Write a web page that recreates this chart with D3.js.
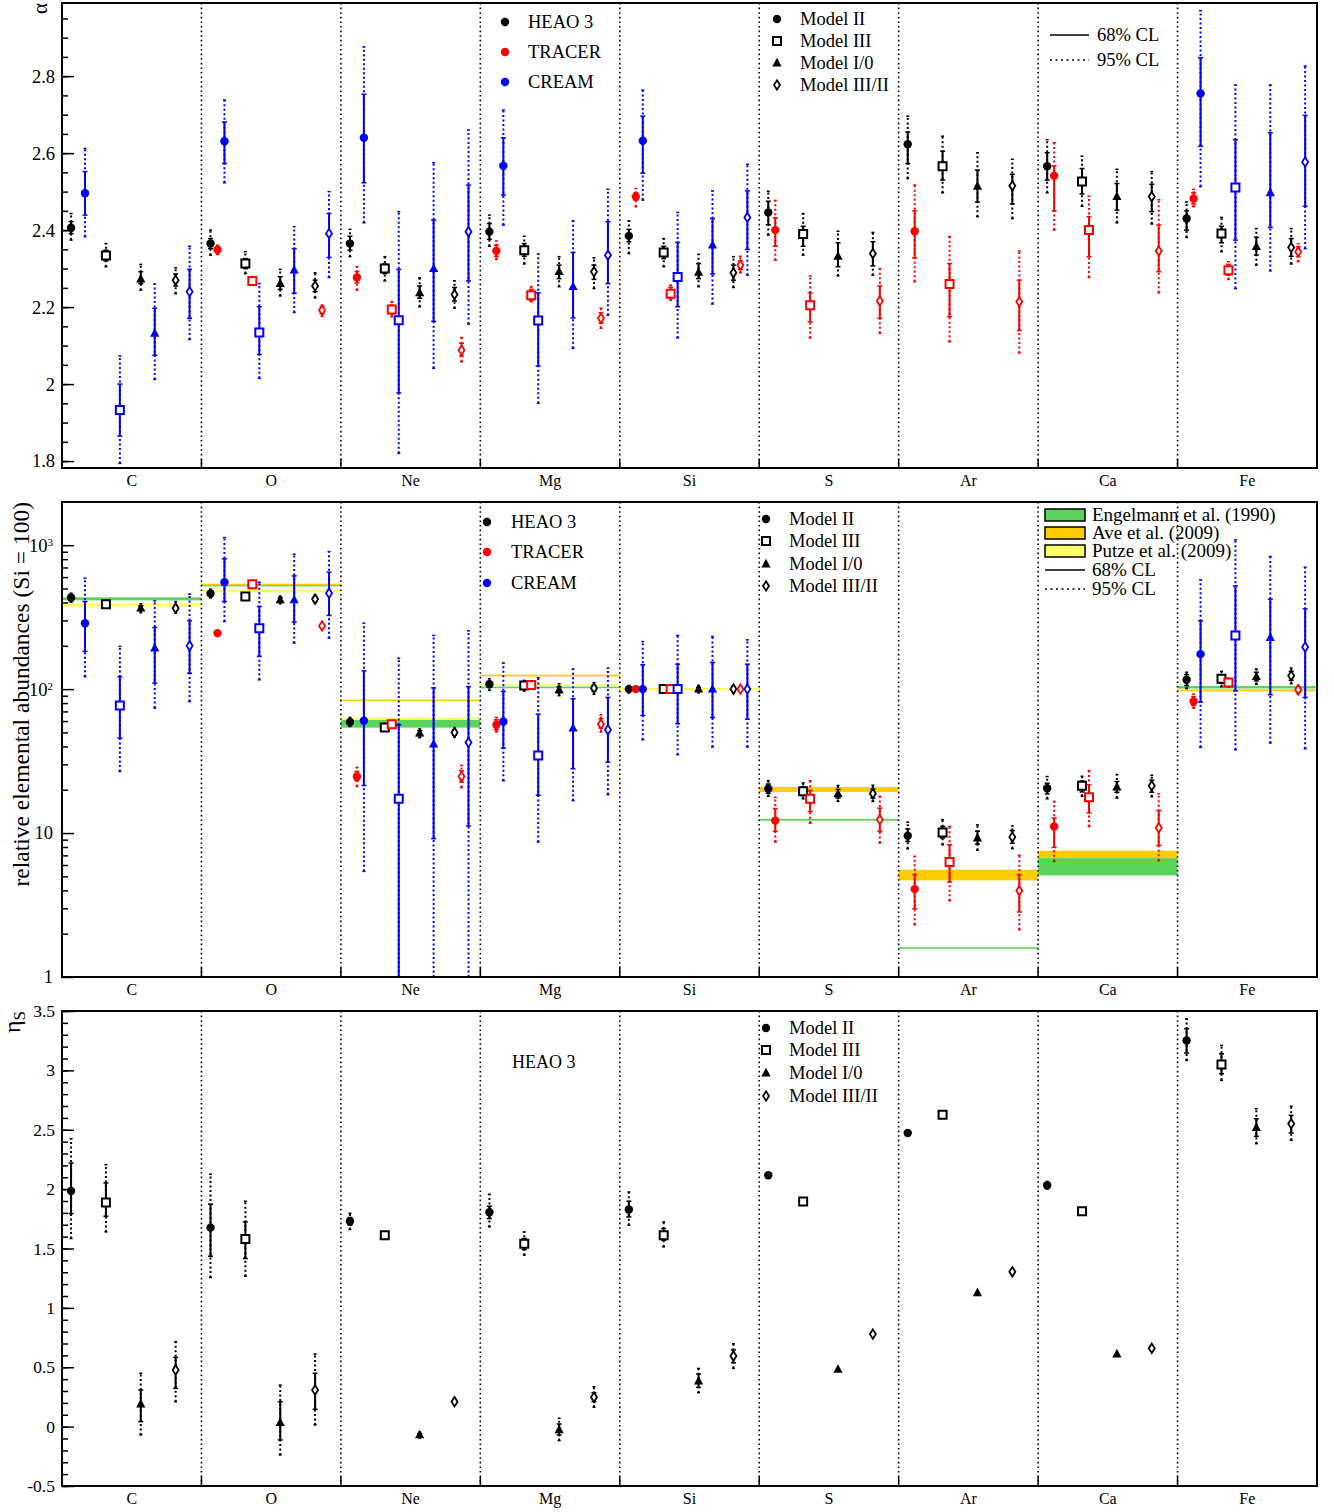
<!DOCTYPE html>
<html>
<head>
<meta charset="utf-8">
<script src="https://cdn.jsdelivr.net/npm/d3@7"></script>
<style>
  body { margin: 0; background: #fff; }
  svg { display: block; }
  text { font-family: "Liberation Serif", "Times New Roman", serif; fill: #000; }
</style>
</head>
<body>
<div id="wrapper"></div>
<script>
// categories
const elements = ["C", "O", "Ne", "Mg", "Si", "S", "Ar", "Ca", "Fe"]
const models = ["Model II", "Model III", "Model I/0", "Model III/II"]
const experiments = ["HEAO 3", "TRACER", "CREAM"]
const bandNames = ["Engelmann et al. (1990)", "Ave et al. (2009)", "Putze et al. (2009)"]
const clNames = ["68% CL", "95% CL"]

// each entry: [value, lo68, hi68, lo95, hi95] (rows = elements, cols = models)
const alphaHEAO3 = [
  [[2.406,2.391,2.422,2.374,2.443],[2.334,2.320,2.348,2.305,2.365],[2.273,2.261,2.292,2.244,2.311],[2.270,2.255,2.286,2.235,2.302]],
  [[2.365,2.352,2.378,2.335,2.400],[2.313,2.300,2.326,2.287,2.344],[2.261,2.246,2.279,2.229,2.298],[2.255,2.240,2.270,2.224,2.289]],
  [[2.365,2.348,2.384,2.331,2.402],[2.300,2.287,2.312,2.268,2.331],[2.237,2.223,2.255,2.201,2.276],[2.233,2.216,2.251,2.197,2.268]],
  [[2.396,2.376,2.417,2.358,2.439],[2.348,2.332,2.365,2.312,2.384],[2.292,2.274,2.309,2.253,2.331],[2.292,2.272,2.309,2.248,2.328]],
  [[2.385,2.370,2.402,2.339,2.424],[2.342,2.326,2.358,2.305,2.378],[2.290,2.274,2.313,2.253,2.337],[2.289,2.270,2.309,2.251,2.331]],
  [[2.446,2.414,2.475,2.387,2.501],[2.390,2.358,2.410,2.335,2.443],[2.332,2.305,2.367,2.281,2.397],[2.339,2.307,2.370,2.283,2.394]],
  [[2.623,2.573,2.655,2.534,2.696],[2.566,2.530,2.605,2.497,2.644],[2.514,2.473,2.556,2.435,2.601],[2.515,2.468,2.545,2.430,2.584]],
  [[2.566,2.530,2.601,2.497,2.635],[2.526,2.494,2.560,2.462,2.592],[2.487,2.452,2.521,2.419,2.558],[2.487,2.448,2.519,2.416,2.552]],
  [[2.430,2.400,2.450,2.381,2.473],[2.391,2.367,2.410,2.344,2.433],[2.357,2.335,2.381,2.309,2.404],[2.355,2.332,2.378,2.312,2.404]]
]
const alphaTRACER = [
  null,
  [[2.349,2.341,2.357,2.337,2.361],[2.268,2.262,2.275,2.258,2.279],null,[2.192,2.183,2.201,2.176,2.205]],
  [[2.277,2.263,2.292,2.244,2.305],[2.194,2.182,2.205,2.175,2.214],null,[2.088,2.073,2.106,2.058,2.121]],
  [[2.346,2.332,2.361,2.324,2.372],[2.231,2.218,2.246,2.214,2.253],null,[2.171,2.158,2.185,2.145,2.197]],
  [[2.487,2.478,2.497,2.461,2.508],[2.235,2.223,2.251,2.218,2.257],null,[2.309,2.298,2.320,2.289,2.332]],
  [[2.400,2.358,2.432,2.322,2.477],[2.205,2.162,2.237,2.120,2.281],null,[2.216,2.171,2.255,2.132,2.300]],
  [[2.397,2.328,2.450,2.266,2.517],[2.260,2.175,2.313,2.110,2.383],null,[2.214,2.139,2.270,2.081,2.346]],
  [[2.541,2.450,2.567,2.400,2.627],[2.400,2.331,2.435,2.277,2.488],null,[2.346,2.292,2.413,2.237,2.479]],
  [[2.482,2.468,2.497,2.461,2.506],[2.296,2.283,2.311,2.272,2.318],null,[2.344,2.331,2.357,2.318,2.365]]
]
const alphaCREAM = [
  [[2.496,2.439,2.552,2.383,2.612],[1.933,1.865,2.000,1.794,2.073],[2.132,2.075,2.197,2.012,2.260],[2.240,2.171,2.298,2.116,2.358]],
  [[2.631,2.573,2.681,2.523,2.738],[2.134,2.077,2.201,2.015,2.261],[2.296,2.236,2.352,2.186,2.409],[2.391,2.329,2.443,2.277,2.500]],
  [[2.640,2.523,2.753,2.419,2.876],[2.166,1.977,2.298,1.820,2.448],[2.300,2.163,2.426,2.041,2.575],[2.396,2.268,2.517,2.156,2.660]],
  [[2.567,2.491,2.640,2.413,2.712],[2.165,2.047,2.237,1.950,2.338],[2.253,2.172,2.342,2.093,2.424],[2.335,2.261,2.422,2.179,2.506]],
  [[2.632,2.548,2.696,2.478,2.764],[2.278,2.201,2.368,2.120,2.446],[2.361,2.286,2.430,2.208,2.502],[2.433,2.350,2.502,2.283,2.571]],
  null, null, null,
  [[2.755,2.618,2.848,2.513,2.970],[2.511,2.374,2.635,2.248,2.777],[2.497,2.407,2.653,2.294,2.777],[2.577,2.462,2.698,2.352,2.826]]
]

const abundHEAO3 = [
  [[433,410,452,402,464],[389,375,405,365,415],[365,352,378,340,392],[365,352,378,337,406]],
  [[462,445,480,430,495],[440,425,455,415,465],[417,402,432,392,442],[422,407,437,395,450]],
  [[59,57,61.5,55,63.5],[54.2,52.5,56,51,57.5],[49.5,47.5,51.5,46,53],[50,48,52,46.5,53.5]],
  [[108,103,113,98,118],[106,101.5,110,97,115],[98.9,94,104,90,109],[101.6,97,106,92,111]],
  [[100,97,103,94,106],[100,97,103,94,106],[100,97,103,94,106],[100,97,103,94,106]],
  [[20.3,18.9,21.9,18.0,23.1],[19.5,18.2,21,17.3,22.3],[18.7,17.5,20.1,16.6,21.4],[18.8,17.5,20.2,16.6,21.5]],
  [[9.58,8.75,10.7,7.78,11.9],[10.1,9.23,11.1,8.3,12.4],[9.23,8.4,10.3,7.6,11.4],[9.38,8.5,10.4,7.8,11.2]],
  [[20.5,18.7,22.2,17.3,24.7],[21.3,19.3,23,18,24.8],[20.9,19.2,22.8,17.5,25.5],[21.3,19.2,23.3,17.9,25.2]],
  [[116,106,126,101,131],[118,110,126,104,133],[122,114,131,108,138],[124,115,133,109,140]]
]
const abundTRACER = [
  null,
  [[245],[536,525,547,520,552],null,[275,268,282,263,287]],
  [[24.7,23.1,26.8,21.1,28.6],[57,55.5,59,54,60],null,[24.7,22.6,27.1,20.7,29.5]],
  [[56.5,52.2,61.2,50.3,63.6],[107,104,110,102,112],null,[57.1,53.6,62.2,50.3,66.4]],
  [[100],[100],null,[100]],
  [[12.2,10.3,14.8,8.66,17.7],[17.3,14.1,19.7,11.7,23.1],null,[12.4,10.3,14.9,8.52,18.0]],
  [[4.08,2.98,5.14,2.31,6.89],[6.29,4.57,8.3,3.39,11.1],null,[3.98,2.83,5.14,2.13,7.0]],
  [[11.1,7.94,12.7,6.36,16.6],[17.7,13.8,21.7,11.1,27.1],null,[10.9,8.2,14.3,6.43,18.7]],
  [[82,77.1,88.9,73.8,92.3],[111,106,116,103,119],null,[98.9,95,103,92,106]]
]
const abundCREAM = [
  [[287,183,406,122,590],[77,45.7,122,26.8,198],[193,110,268,73.8,410],[200,129,298,82,457]],
  [[553,406,804,295,1130],[265,169,375,116,553],[417,292,612,209,866],[464,325,649,226,903]],
  [[60.3,21.4,134,5.42,287],[17.3,0.3,56.5,0.1,164],[41.5,9.14,102,0.1,236],[42.6,11.2,104,0.1,254]],
  [[59.6,38.9,96.3,23.1,152],[34.6,18.3,67,8.66,120],[53.6,28,85.7,16.8,138],[52.2,31.1,87.5,18.5,140]],
  [[100,65.6,147.5,44.5,214],[100,57.5,149,35,236],[100,63.6,153,39.6,232],[100,61.9,149,39.6,220]],
  null, null, null,
  [[175,81.2,298,39.4,574],[236,97.3,522,37.9,1089],[228,91.4,422,42.2,834],[196,87.5,361,38.5,703]]
]

const etaHEAO3 = [
  [[1.985,1.794,2.220,1.584,2.425],[1.887,1.772,2.052,1.640,2.206],[0.19,0.042,0.308,-0.070,0.449],[0.477,0.322,0.583,0.210,0.715]],
  [[1.676,1.435,1.873,1.256,2.125],[1.581,1.416,1.724,1.267,1.898],[0.034,-0.112,0.210,-0.238,0.350],[0.308,0.146,0.449,0.014,0.611]],
  [[1.730,1.697,1.761,1.660,1.797],[1.612,1.595,1.628,1.585,1.640],[-0.070,-0.082,-0.058,-0.095,-0.045],[0.210,0.193,0.227,0.183,0.237]],
  [[1.805,1.752,1.856,1.682,1.957],[1.539,1.491,1.584,1.444,1.640],[-0.028,-0.070,0.022,-0.118,0.070],[0.247,0.210,0.286,0.163,0.336]],
  [[1.828,1.766,1.898,1.696,1.976],[1.612,1.570,1.668,1.514,1.724],[0.384,0.330,0.443,0.286,0.490],[0.594,0.538,0.647,0.491,0.698]],
  [[2.117],[1.895],[0.482],[0.779]],
  [[2.473],[2.627],[1.127],[1.304]],
  [[2.033,2.015,2.050,2.000,2.065],[1.814],[0.611],[0.659]],
  [[3.252,3.146,3.350,3.084,3.434],[3.050,2.972,3.140,2.916,3.210],[2.518,2.445,2.593,2.383,2.677],[2.551,2.473,2.621,2.411,2.697]]
]

// reference abundance bands [lo, hi] per element
const engelmannBand = [[414,434],[518,530],[54,61.2],[101.5,104],[99,101],[12.2,12.55],[1.57,1.61],[5.08,6.7],[101,105]]
const aveBand = [null,[526,540],[82.5,84.5],[122.5,126],[99,101],[19.3,20.9],[4.69,5.56],[6.7,7.54],[96.5,99.5]]
const putzeBand = [[375,395],[470,490],[61.8,63.4],[105.5,108],[98.5,101.5],null,null,null,null]

// ticks
const alphaTicks = [1.8, 2, 2.2, 2.4, 2.6, 2.8]
const abundTicks = [1, 10, 100, 1000]
const etaTicks = [-0.5, 0, 0.5, 1, 1.5, 2, 2.5, 3, 3.5]

// ---------------------------------------------------------------
const expColors = ["#000000", "#ff0000", "#0000ff"]
const bandColors = ["#5ad35a", "#ffcc00", "#ffff66"]

const width = 1334
const height = 1512
const left = 62
const right = 1317

const svg = d3.select("#wrapper")
  .append("svg")
    .attr("width", width)
    .attr("height", height)

const x = d3.scaleBand()
  .domain(elements)
  .range([left, right])
const slot = x.bandwidth() / 4
const xPos = (el, m, e) => x(el) + slot * (m + 0.26 + 0.2 * e)

const panels = [
  {top: 3, bottom: 468, y: d3.scaleLinear().domain([1.782, 2.99]).range([468, 3])},
  {top: 502, bottom: 977, y: d3.scaleLog().domain([1, Math.pow(10, 3.3)]).range([977, 502])},
  {top: 1011, bottom: 1486, y: d3.scaleLinear().domain([-0.5, 3.5]).range([1486, 1011])}
]

const markerPaths = [
  "M4.2,0A4.2,4.2 0 1,1 -4.2,0A4.2,4.2 0 1,1 4.2,0Z",
  "M-4,-4H4V4H-4Z",
  "M0,-5.2L4.6,3.4H-4.6Z",
  "M0,-4.7L3,0L0,4.7L-3,0Z"
]
const filled = m => m === 0 || m === 2

function drawMarker(sel, m, color) {
  sel.attr("d", markerPaths[m])
    .attr("fill", filled(m) ? color : "#fff")
    .attr("stroke", filled(m) ? "none" : color)
    .attr("stroke-width", m === 1 ? 2 : 1.8)
}

function flatten(rows, e) {
  const out = []
  rows.forEach((row, i) => {
    if (!row) return
    row.forEach((d, m) => {
      if (!d) return
      out.push({el: elements[i], m, e, v: d[0], err: d.length === 5 ? d.slice(1) : null})
    })
  })
  return out
}

function drawSeries(g, y, rows, e) {
  const pts = flatten(rows, e)
  const color = expColors[e]
  const cx = p => xPos(p.el, p.m, p.e)
  const grp = g.append("g")
  const withErr = pts.filter(p => p.err)

  grp.selectAll(".e95").data(withErr).join("line")
    .attr("x1", cx).attr("x2", cx)
    .attr("y1", p => y(p.err[2])).attr("y2", p => y(p.err[3]))
    .attr("stroke", color).attr("stroke-width", 2)
    .attr("stroke-dasharray", "2,2.5")

  const caps95 = withErr.flatMap(p => [[p, p.err[2]], [p, p.err[3]]])
  grp.selectAll(".c95").data(caps95).join("line")
    .attr("x1", d => cx(d[0]) - 1.5).attr("x2", d => cx(d[0]) + 1.5)
    .attr("y1", d => y(d[1])).attr("y2", d => y(d[1]))
    .attr("stroke", color).attr("stroke-width", 1.5)

  grp.selectAll(".e68").data(withErr).join("line")
    .attr("x1", cx).attr("x2", cx)
    .attr("y1", p => y(p.err[0])).attr("y2", p => y(p.err[1]))
    .attr("stroke", color).attr("stroke-width", 2)

  const caps68 = withErr.flatMap(p => [[p, p.err[0]], [p, p.err[1]]])
  grp.selectAll(".c68").data(caps68).join("line")
    .attr("x1", d => cx(d[0]) - 2.5).attr("x2", d => cx(d[0]) + 2.5)
    .attr("y1", d => y(d[1])).attr("y2", d => y(d[1]))
    .attr("stroke", color).attr("stroke-width", 1.5)

  grp.selectAll(".mk").data(pts).join("path")
    .attr("transform", p => `translate(${cx(p)},${y(p.v)})`)
    .each(function(p) { drawMarker(d3.select(this), p.m, color) })
}

function drawFrame(p) {
  const g = svg.append("g")
  // separators between elements
  g.selectAll(".sep").data(elements.slice(1)).join("line")
    .attr("x1", d => x(d)).attr("x2", d => x(d))
    .attr("y1", p.top).attr("y2", p.bottom)
    .attr("stroke", "#000").attr("stroke-width", 1.6)
    .attr("stroke-dasharray", "1.6,3")
  g.selectAll(".septick").data(elements.slice(1)).join("line")
    .attr("x1", d => x(d)).attr("x2", d => x(d))
    .attr("y1", p.bottom - 9).attr("y2", p.bottom)
    .attr("stroke", "#000").attr("stroke-width", 1.5)
  // element labels
  g.append("g")
    .attr("transform", `translate(0,${p.bottom})`)
    .call(d3.axisBottom(x).tickSize(0).tickPadding(7))
    .call(a => a.select(".domain").remove())
    .selectAll("text")
      .style("font-family", "Liberation Serif, serif")
      .style("font-size", "16px")
  g.append("rect")
    .attr("x", left).attr("y", p.top)
    .attr("width", right - left).attr("height", p.bottom - p.top)
    .attr("fill", "none").attr("stroke", "#000").attr("stroke-width", 2)
}

function drawYAxis(p, major, minor, fmt, pad, fs) {
  const g = svg.append("g").attr("transform", `translate(${left},0)`)
  g.append("g")
    .call(d3.axisLeft(p.y).tickValues(minor).tickSize(-6).tickFormat(""))
    .call(a => a.select(".domain").remove())
  const ax = g.append("g")
    .call(d3.axisLeft(p.y).tickValues(major).tickSize(-12).tickPadding(pad).tickFormat(fmt))
    .call(a => a.select(".domain").remove())
  g.selectAll("line").attr("stroke", "#000").attr("stroke-width", 1.5)
  ax.selectAll("text")
    .style("font-family", "Liberation Serif, serif")
    .style("font-size", fs + "px")
  return ax
}

function clip(p, id) {
  svg.append("clipPath").attr("id", id)
    .append("rect")
      .attr("x", left).attr("y", p.top)
      .attr("width", right - left).attr("height", p.bottom - p.top)
  return svg.append("g").attr("clip-path", `url(#${id})`)
}

function drawLegendMarkers(items, mx, tx, ys, markerOf, colorOf) {
  const g = svg.append("g")
  g.selectAll("path").data(items).join("path")
    .attr("transform", (d, i) => `translate(${mx},${ys[i]})`)
    .each(function(d, i) { drawMarker(d3.select(this), markerOf(i), colorOf(i)) })
  g.selectAll("text").data(items).join("text")
    .attr("x", tx).attr("y", (d, i) => ys[i]).attr("dy", "0.33em")
    .style("font-size", "18.5px")
    .text(d => d)
}

function drawCLLegend(x0, x1, tx, ys, fs) {
  const g = svg.append("g")
  g.selectAll("line").data(clNames).join("line")
    .attr("x1", x0).attr("x2", x1)
    .attr("y1", (d, i) => ys[i]).attr("y2", (d, i) => ys[i])
    .attr("stroke", "#000").attr("stroke-width", 1.5)
    .attr("stroke-dasharray", (d, i) => i ? "2,3.5" : null)
  g.selectAll("text").data(clNames).join("text")
    .attr("x", tx).attr("y", (d, i) => ys[i]).attr("dy", "0.33em")
    .style("font-size", fs + "px")
    .text(d => d)
}

// ---------------- panel 1: alpha ----------------
{
  const p = panels[0]
  const g = clip(p, "clip1")
  drawFrame(p)
  drawSeries(g, p.y, alphaHEAO3, 0)
  drawSeries(g, p.y, alphaTRACER, 1)
  drawSeries(g, p.y, alphaCREAM, 2)
  drawYAxis(p, alphaTicks, d3.range(36, 60).map(i => i * 0.05), d => String(d), 7, 18.5)
  svg.append("text")
    .attr("transform", "translate(47,3) rotate(-90)")
    .attr("text-anchor", "end")
    .style("font-size", "21px")
    .text("α")
  drawLegendMarkers(experiments, 505, 528, [22, 52, 82], () => 0, i => expColors[i])
  drawLegendMarkers(models, 777, 800, [19, 41, 63, 85], i => i, () => "#000")
  drawCLLegend(1050, 1089, 1097, [35, 60], 18.5)
}

// ---------------- panel 2: abundances ----------------
{
  const p = panels[1]
  const g = clip(p, "clip2")
  const bands = [engelmannBand, aveBand, putzeBand]
  bands.forEach((band, b) => {
    const rows = band.map((d, i) => d ? {el: elements[i], lo: d[0], hi: d[1]} : null).filter(d => d)
    g.append("g").selectAll("rect").data(rows).join("rect")
      .attr("x", d => x(d.el))
      .attr("width", x.bandwidth())
      .attr("y", d => Math.min(p.y(d.hi), (p.y(d.hi) + p.y(d.lo)) / 2 - 0.8))
      .attr("height", d => Math.max(p.y(d.lo) - p.y(d.hi), 1.6))
      .attr("fill", bandColors[b])
  })
  drawFrame(p)
  drawSeries(g, p.y, abundHEAO3, 0)
  drawSeries(g, p.y, abundTRACER, 1)
  drawSeries(g, p.y, abundCREAM, 2)
  const minor = abundTicks.flatMap(d => d3.range(2, 10).map(k => d * k)).filter(v => v < 1990)
  const ax = drawYAxis(p, abundTicks, minor, d => String(d), 9, 18.5)
  ax.selectAll(".tick text").each(function(d) {
    if (d >= 100) {
      const t = d3.select(this).text("10")
      t.append("tspan")
        .attr("dy", "-0.5em")
        .style("font-size", "11px")
        .text(Math.round(Math.log10(d)))
    }
  })
  svg.append("text")
    .attr("transform", "translate(29,502) rotate(-90)")
    .attr("text-anchor", "end")
    .style("font-size", "23.5px")
    .text("relative elemental abundances (Si = 100)")
  drawLegendMarkers(experiments, 487, 511, [522, 552, 583], () => 0, i => expColors[i])
  drawLegendMarkers(models, 766, 789, [519, 541, 564, 586], i => i, () => "#000")
  const lg = svg.append("g")
  const bys = [515, 533, 551]
  lg.selectAll("rect").data(bandNames).join("rect")
    .attr("x", 1045).attr("y", (d, i) => bys[i] - 6)
    .attr("width", 40).attr("height", 12)
    .attr("fill", (d, i) => bandColors[i])
    .attr("stroke", "#000").attr("stroke-width", 1.5)
  lg.selectAll("text").data(bandNames).join("text")
    .attr("x", 1092).attr("y", (d, i) => bys[i]).attr("dy", "0.33em")
    .style("font-size", "19px")
    .text(d => d)
  drawCLLegend(1045, 1085, 1092, [570, 589], 19)
}

// ---------------- panel 3: eta_S ----------------
{
  const p = panels[2]
  const g = clip(p, "clip3")
  drawFrame(p)
  drawSeries(g, p.y, etaHEAO3, 0)
  drawYAxis(p, etaTicks, d3.range(-5, 36).map(i => i / 10), d => String(d), 7, 17.5)
  const t = svg.append("text")
    .attr("transform", "translate(20,1011) rotate(-90)")
    .attr("text-anchor", "end")
    .style("font-size", "24px")
    .text("η")
  t.append("tspan").attr("dy", "0.3em").style("font-size", "17px").text("S")
  svg.append("text")
    .attr("x", 512).attr("y", 1062).attr("dy", "0.33em")
    .style("font-size", "18px")
    .text(experiments[0])
  drawLegendMarkers(models, 766, 789, [1028, 1050, 1073, 1096], i => i, () => "#000")
}
</script>
</body>
</html>
